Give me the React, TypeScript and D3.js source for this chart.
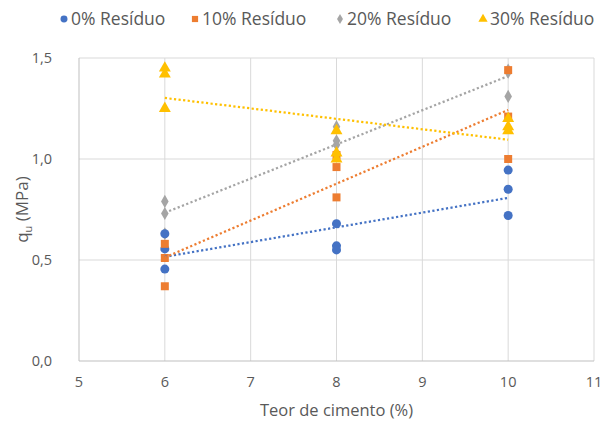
import React from "react";
import * as d3 from "d3";

// Cement content (%) of each specimen, three replicates per level
const cementContent = [6, 6, 6, 8, 8, 8, 10, 10, 10];

// Unconfined compressive strength q_u (MPa) by residue content
const residue0 = [0.63, 0.555, 0.455, 0.68, 0.57, 0.55, 0.945, 0.85, 0.72];
const residue10 = [0.58, 0.51, 0.37, 1.02, 0.96, 0.81, 1.44, 1.21, 1.0];
const residue20 = [0.79, 0.73, 0.63, 1.16, 1.09, 1.07, 1.43, 1.44, 1.31];
const residue30 = [1.45, 1.42, 1.25, 1.14, 1.03, 1.0, 1.2, 1.16, 1.14];

const seriesNames = ["0% Resíduo", "10% Resíduo", "20% Resíduo", "30% Resíduo"];
const seriesColors = ["#4472C4", "#ED7D31", "#A5A5A5", "#FFC000"];
const seriesShapes = ["circle", "square", "diamond", "triangle"];
const seriesValues = [residue0, residue10, residue20, residue30];

const xTicks = [5, 6, 7, 8, 9, 10, 11];
const yTicks = [0, 0.5, 1.0, 1.5];

const W = 615;
const H = 424;
const FONT = "'Open Sans', sans-serif";
const TEXT = "#595959";

const x = d3.scaleLinear().domain([5, 11]).range([79, 594]);
const y = d3.scaleLinear().domain([0, 1.5]).range([361, 58]);

const symbolType: Record<string, d3.SymbolType> = {
  circle: d3.symbolCircle,
  square: d3.symbolSquare,
  diamond: d3.symbolDiamond,
  triangle: d3.symbolTriangle,
};
const symbolSize: Record<string, number> = {
  circle: 64,
  square: 64,
  diamond: 50,
  triangle: 62,
};

function markerPath(shape: string, scale = 1) {
  return d3.symbol().type(symbolType[shape]).size(symbolSize[shape] * scale)() || "";
}

// Ordinary least-squares line through the specimens of one series
function linearFit(xs: number[], ys: number[]) {
  const mx = d3.mean(xs) as number;
  const my = d3.mean(ys) as number;
  let num = 0;
  let den = 0;
  xs.forEach((xv, i) => {
    num += (xv - mx) * (ys[i] - my);
    den += (xv - mx) * (xv - mx);
  });
  const slope = num / den;
  return (xv: number) => my + slope * (xv - mx);
}

const fmt = (v: number) => v.toFixed(1).replace(".", ",");

export default function App() {
  const [xMin, xMax] = d3.extent(cementContent) as [number, number];
  const drawOrder = [2, 0, 1, 3];
  const legendX = [64, 195, 340, 483];

  return (
    <svg width={W} height={H} style={{ display: "block", position: "absolute", left: 0, top: 0, background: "#fff" }}>
      {/* gridlines */}
      {yTicks.filter((t) => t > 0).map((t) => (
        <line key={"gy" + t} x1={x(5)} x2={x(11)} y1={y(t)} y2={y(t)} stroke="#D9D9D9" strokeWidth={1} />
      ))}
      {xTicks.filter((t) => t > 5).map((t) => (
        <line key={"gx" + t} x1={x(t)} x2={x(t)} y1={y(0)} y2={y(1.5)} stroke="#D9D9D9" strokeWidth={1} />
      ))}
      {/* axes */}
      <line x1={x(5)} x2={x(11)} y1={y(0)} y2={y(0)} stroke="#BFBFBF" strokeWidth={1} />
      <line x1={x(5)} x2={x(5)} y1={y(0)} y2={y(1.5)} stroke="#BFBFBF" strokeWidth={1} />

      {/* tick labels */}
      {yTicks.map((t) => (
        <text key={"ty" + t} x={52} y={y(t)} dy="0.35em" textAnchor="end" fontFamily={FONT} fontSize={14.5} fill={TEXT}>
          {fmt(t)}
        </text>
      ))}
      {xTicks.map((t) => (
        <text key={"tx" + t} x={x(t)} y={382} dy="0.35em" textAnchor="middle" fontFamily={FONT} fontSize={14.5} fill={TEXT}>
          {t}
        </text>
      ))}

      {/* axis titles */}
      <text x={x(8)} y={410} dy="0.35em" textAnchor="middle" fontFamily={FONT} fontSize={16.5} fill={TEXT}>
        Teor de cimento (%)
      </text>
      <text transform={`translate(22, ${y(0.75)}) rotate(-90)`} textAnchor="middle" dy="0.35em" fontFamily={FONT} fontSize={17} fill={TEXT}>
        q<tspan fontSize={11} dy="4">u</tspan>
        <tspan dy="-4"> (MPa)</tspan>
      </text>

      {/* markers */}
      {drawOrder.map((s) => (
        <g key={"m" + s}>
          {seriesValues[s].map((v, i) => (
            <path
              key={i}
              d={markerPath(seriesShapes[s])}
              transform={`translate(${x(cementContent[i])}, ${y(v)})`}
              fill={seriesColors[s]}
            />
          ))}
        </g>
      ))}

      {/* linear trend lines */}
      {seriesValues.map((vals, s) => {
        const f = linearFit(cementContent, vals);
        return (
          <line
            key={"t" + s}
            x1={x(xMin)}
            x2={x(xMax)}
            y1={y(f(xMin))}
            y2={y(f(xMax))}
            stroke={seriesColors[s]}
            strokeWidth={2.25}
            strokeDasharray="2.2 2.4"
          />
        );
      })}

      {/* legend */}
      {seriesNames.map((name, s) => (
        <g key={"l" + s} transform={`translate(${legendX[s]}, 19)`}>
          <path d={markerPath(seriesShapes[s], 0.6)} fill={seriesColors[s]} />
          <text x={7} dy="0.35em" fontFamily={FONT} fontSize={17.5} fill={TEXT}>
            {name}
          </text>
        </g>
      ))}
    </svg>
  );
}
